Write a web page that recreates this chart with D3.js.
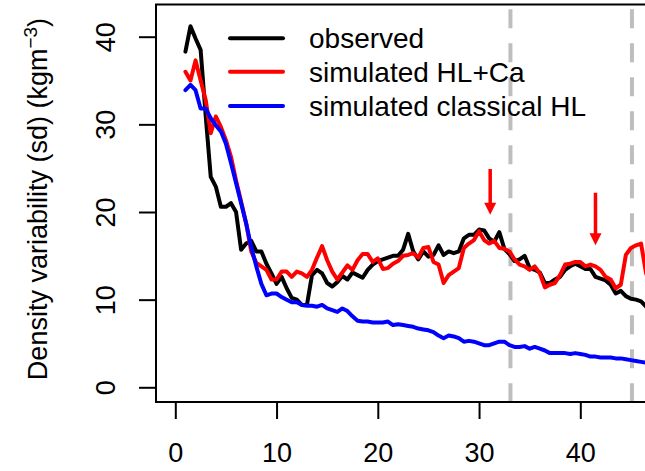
<!DOCTYPE html>
<html>
<head>
<meta charset="utf-8">
<script src="https://cdn.jsdelivr.net/npm/d3@7"></script>
<style>
  body { margin: 0; background: #fff; }
  svg { display: block; font-family: "Liberation Sans", Arial, Helvetica, sans-serif; }
</style>
</head>
<body>
<div id="chart"></div>
<script>
// depth axis (every half unit)
var depth = d3.range(1, 47.5, 0.5);

var observed = [38.3, 41.2, 39.8, 38.5, 31.0, 24.0, 22.9, 20.6, 20.6, 21.0,
                20.0, 15.7, 16.4, 16.7, 15.5, 15.5, 14.1, 13.0, 11.8, 12.6,
                11.3, 10.2, 10.0, 9.4, 9.4, 12.8, 13.4, 13.0, 11.9, 11.5,
                12.0, 12.7, 12.3, 13.1, 12.8, 12.5, 13.4, 14.0, 14.4, 14.6,
                14.8, 15.0, 15.0, 15.7, 17.5, 15.5, 14.6, 15.5, 14.9, 15.1,
                16.2, 15.1, 15.5, 15.3, 15.5, 17.0, 17.4, 17.4, 18.0, 17.9,
                17.0, 16.6, 17.7, 15.8, 15.2, 14.4, 14.6, 15.0, 13.6, 13.4,
                13.1, 11.9, 11.9, 12.3, 12.6, 13.4, 13.8, 14.1, 13.8, 13.5,
                13.5, 12.6, 12.4, 12.2, 11.7, 10.7, 11.0, 10.4, 10.1, 10.0,
                9.8, 9.2, 8.6];

var simHLCa = [36.0, 35.0, 37.3, 35.0, 32.8, 29.0, 30.9, 29.7, 28.2, 26.3,
               23.6, 21.2, 18.7, 15.5, 14.2, 13.8, 13.4, 12.3, 12.3, 13.2,
               13.2, 12.6, 13.2, 13.0, 12.6, 13.4, 14.8, 16.1, 14.5, 13.2,
               12.3, 13.1, 13.9, 13.4, 14.5, 15.2, 15.2, 14.3, 14.7, 13.5,
               13.6, 14.1, 14.4, 15.0, 15.1, 15.3, 14.8, 15.9, 16.0, 14.3,
               14.0, 11.9, 12.8, 13.2, 13.6, 15.9, 16.4, 16.8, 17.8, 16.8,
               16.4, 16.7, 15.9, 15.8, 15.5, 14.6, 14.0, 13.8, 13.4, 13.8,
               13.0, 11.4, 11.7, 11.9, 12.8, 14.0, 14.1, 14.3, 14.3, 13.8,
               14.0, 13.8, 13.4, 12.6, 12.3, 11.3, 11.7, 15.1, 15.9, 16.2,
               16.4, 13.0, 11.5];

var simHL = [33.9, 34.5, 33.9, 31.8, 31.8, 30.7, 29.9, 29.2, 27.8, 25.6,
             23.3, 21.0, 18.7, 16.0, 13.8, 11.8, 10.5, 10.7, 10.7, 10.3,
             10.0, 9.7, 9.7, 9.4, 9.3, 9.3, 9.2, 9.4, 9.0, 8.8,
             8.6, 9.0, 8.7, 8.1, 7.6, 7.5, 7.5, 7.4, 7.4, 7.4,
             7.5, 7.1, 7.2, 7.1, 7.0, 6.9, 6.7, 6.6, 6.5, 6.3,
             5.9, 5.6, 5.9, 5.8, 5.6, 5.2, 5.3, 5.2, 5.0, 4.8,
             4.8, 5.0, 5.2, 5.2, 4.8, 4.6, 4.6, 4.7, 4.4, 4.6,
             4.4, 4.2, 3.9, 3.9, 3.9, 3.9, 3.8, 3.9, 3.8, 3.7,
             3.5, 3.5, 3.4, 3.4, 3.4, 3.3, 3.3, 3.2, 3.1, 3.0,
             2.9, 2.8, 2.7];

var xTicks = [0, 10, 20, 30, 40];
var yTicks = [0, 10, 20, 30, 40];
var breakDepths = [33.1, 45.1];
var arrowDepths = [31.1, 41.5];
var arrowFrom = [24.9, 22.2];
var arrowTo = [19.7, 16.2];

var seriesNames = ["observed", "simulated HL+Ca", "simulated classical HL"];
var seriesColors = ["#000000", "#ff0000", "#0000ff"];
var seriesData = [observed, simHLCa, simHL];

var W = 645, H = 471;
var box = { left: 156, top: 4.5, right: 700, bottom: 402 };

var x = d3.scaleLinear().domain([0, 40]).range([175.3, 580.3]);
var y = d3.scaleLinear().domain([0, 40]).range([387.3, 36.7]);

var svg = d3.select("#chart")
            .append("svg")
            .attr("width", W)
            .attr("height", H);

svg.append("defs").append("clipPath")
   .attr("id", "plotclip")
   .append("rect")
   .attr("x", box.left).attr("y", box.top)
   .attr("width", box.right - box.left).attr("height", box.bottom - box.top);

var plot = svg.append("g").attr("clip-path", "url(#plotclip)");

// dashed grey break lines
plot.selectAll("line.brk")
    .data(breakDepths)
    .enter()
    .append("line")
    .attr("class", "brk")
    .attr("x1", function(d) { return x(d); })
    .attr("x2", function(d) { return x(d); })
    .attr("y1", box.top)
    .attr("y2", box.bottom)
    .style("stroke", "#bebebe")
    .style("stroke-width", 4)
    .style("stroke-dasharray", "19,15")
    .style("stroke-dashoffset", 29.2);

var line = d3.line()
             .x(function(d, i) { return x(depth[i]); })
             .y(function(d) { return y(d); });

plot.selectAll("path.series")
    .data(seriesData)
    .enter()
    .append("path")
    .attr("class", "series")
    .attr("d", line)
    .style("fill", "none")
    .style("stroke", function(d, i) { return seriesColors[i]; })
    .style("stroke-width", 4)
    .style("stroke-linejoin", "round")
    .style("stroke-linecap", "round");

// red arrows
arrowDepths.forEach(function(d, i) {
    var ax = x(d), y0 = y(arrowFrom[i]), y1 = y(arrowTo[i]);
    plot.append("line")
        .attr("x1", ax).attr("x2", ax)
        .attr("y1", y0).attr("y2", y1 - 10)
        .style("stroke", "#ff0000")
        .style("stroke-width", 3.5);
    plot.append("path")
        .attr("d", "M" + (ax - 6) + "," + (y1 - 12) + "L" + (ax + 6) + "," + (y1 - 12) + "L" + ax + "," + y1 + "Z")
        .style("fill", "#ff0000");
});

// axes
var yAxis = svg.append("g")
               .attr("transform", "translate(" + box.left + ",0)")
               .call(d3.axisLeft(y).tickValues(yTicks).tickSize(17).tickFormat(d3.format("d")));
yAxis.select(".domain").remove();
yAxis.selectAll("line").style("stroke", "#000").style("stroke-width", 2);
yAxis.selectAll("text")
     .attr("transform", "rotate(-90)")
     .attr("x", 0)
     .attr("y", -41)
     .attr("dy", 0)
     .style("text-anchor", "middle")
     .style("font-size", "27px")
     .style("font-family", "'Liberation Sans', Arial, sans-serif")
     .style("fill", "#000");

var xAxis = svg.append("g")
               .attr("transform", "translate(0," + box.bottom + ")")
               .call(d3.axisBottom(x).tickValues(xTicks).tickSize(17).tickFormat(d3.format("d")));
xAxis.select(".domain").remove();
xAxis.selectAll("line").style("stroke", "#000").style("stroke-width", 2);
xAxis.selectAll("text")
     .attr("y", 60)
     .attr("dy", 0)
     .style("font-size", "27px")
     .style("font-family", "'Liberation Sans', Arial, sans-serif")
     .style("fill", "#000");

// box
svg.append("rect")
   .attr("x", box.left).attr("y", box.top)
   .attr("width", box.right - box.left).attr("height", box.bottom - box.top)
   .style("fill", "none")
   .style("stroke", "#000")
   .style("stroke-width", 2);

// y title
var ttl = svg.append("text")
             .attr("transform", "translate(46.7,199) rotate(-90)")
             .style("text-anchor", "middle")
             .style("font-size", "27px");
ttl.append("tspan").text("Density variability (sd) (kgm");
ttl.append("tspan").attr("dy", "-0.5em").style("font-size", "19px").text("\u22123");
ttl.append("tspan").attr("dy", "0.35em").text(")");

// legend
var leg = svg.append("g");
var legY = [38.3, 71.7, 106];
leg.selectAll("line")
   .data(seriesNames)
   .enter()
   .append("line")
   .attr("x1", 230).attr("x2", 283)
   .attr("y1", function(d, i) { return legY[i]; })
   .attr("y2", function(d, i) { return legY[i]; })
   .style("stroke", function(d, i) { return seriesColors[i]; })
   .style("stroke-width", 4)
   .style("stroke-linecap", "round");
leg.selectAll("text")
   .data(seriesNames)
   .enter()
   .append("text")
   .attr("x", 309)
   .attr("y", function(d, i) { return legY[i]; })
   .attr("dy", "0.35em")
   .style("font-size", "28px")
   .text(function(d) { return d; });
</script>
</body>
</html>
